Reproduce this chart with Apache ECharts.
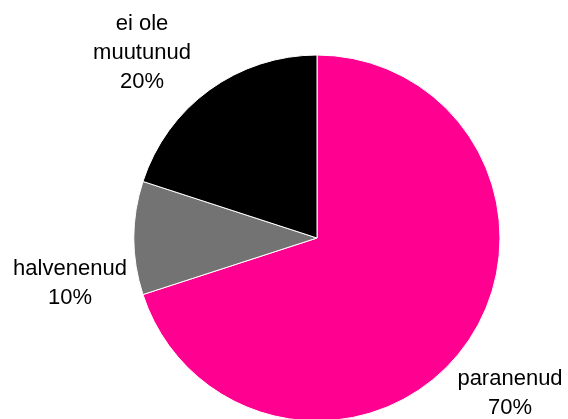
<!DOCTYPE html>
<html>
<head>
<meta charset="utf-8">
<script src="https://cdn.jsdelivr.net/npm/echarts@6/dist/echarts.min.js"></script>
<style>html,body{margin:0;padding:0;background:#fff}#c{width:568px;height:419px}</style>
</head>
<body>
<div id="c"></div>
<script>
const categories = ['paranenud', 'halvenenud', 'ei ole\nmuutunud'];
const values = [70, 10, 20];
const colors = ['#FF0090', '#737373', '#000000'];
const labelPos = [[510, 393], [70, 283], [142, 53]];

const chart = echarts.init(document.getElementById('c'), null, {renderer: 'canvas'});
chart.setOption({
  animation: false,
  backgroundColor: '#ffffff',
  series: [{
    type: 'pie',
    center: [317, 238],
    radius: [0, 183],
    startAngle: 90,
    clockwise: true,
    avoidLabelOverlap: false,
    itemStyle: {borderColor: '#ffffff', borderWidth: 1},
    label: {
      show: true,
      position: 'outside',
      formatter: '{b}\n{d}%',
      fontFamily: 'Liberation Sans, Arial, sans-serif',
      fontSize: 22,
      lineHeight: 29,
      color: '#000000',
      align: 'center'
    },
    labelLine: {show: false},
    labelLayout: function (params) {
      const p = labelPos[params.dataIndex];
      return {x: p[0], y: p[1], align: 'center', verticalAlign: 'middle'};
    },
    emphasis: {disabled: true},
    data: categories.map((n, i) => ({name: n, value: values[i], itemStyle: {color: colors[i]}}))
  }]
});
</script>
</body>
</html>
